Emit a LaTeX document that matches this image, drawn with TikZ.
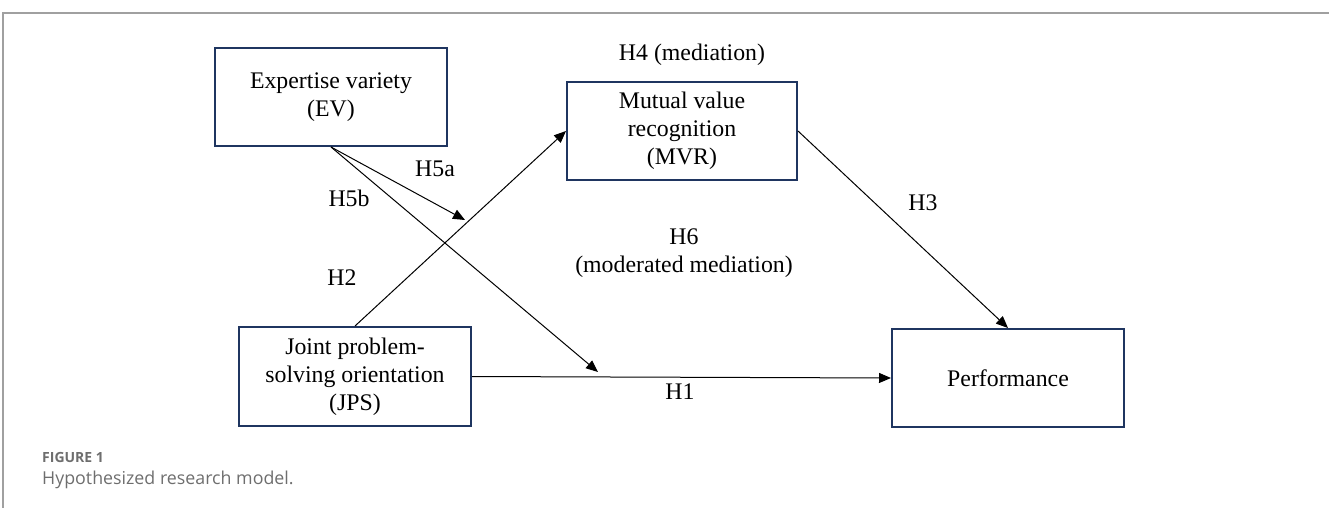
\documentclass[tikz,border=0pt]{standalone}
\usepackage{fontspec}
\setmainfont{Liberation Serif}
\newfontfamily\capfont{Open Sans}
\usetikzlibrary{positioning, arrows.meta}
\usepackage{xcolor}
\definecolor{boxblue}{HTML}{1F3560}
\definecolor{framegray}{HTML}{A0A0A0}
\definecolor{capgray}{HTML}{6E6E6E}

\tikzset{
  box/.style={draw=boxblue, line width=2pt, rectangle, align=center,
    minimum width=232pt, minimum height=98pt, inner sep=0pt,
    font=\fontsize{23.8}{28}\selectfont},
  lbl/.style={align=center, inner sep=0pt, font=\fontsize{23.8}{28}\selectfont},
  arr/.style={-{Triangle[length=12pt,width=10pt]}, line width=1pt, black}
}

\begin{document}
\begin{tikzpicture}[x=1pt, y=-1pt]
\useasboundingbox (0,0) rectangle (1329,508);
% frame
\draw[framegray, line width=1.5pt] (1329,13) -- (3,13) -- (3,508);

\node[box] (ev) at (331,97) {Expertise variety\\(EV)};
\node[box, minimum width=230pt] (mvr) at (682,131) {Mutual value\\recognition\\(MVR)};
\node[box, minimum height=99pt] (jps) at (355,376.5) {Joint problem-\\solving orientation\\(JPS)};
\node[box] (perf) at (1008,378) {Performance};

\coordinate (h5atip) at (465,220);
\coordinate (h5btip) at (598,372);

\draw[arr] (jps.north) -- (mvr.west);
\draw[arr] (ev.south) -- (h5atip);
\draw[arr] (ev.south) -- (h5btip);
\draw[arr] (jps.east) -- (perf.west);
\draw[arr] (mvr.east) -- (perf.north);

\node[lbl] (h4) at (692,55) {H4 (mediation)};
\node[lbl] (h5a) at (435,169) {H5a};
\node[lbl] (h5b) at (349,198) {H5b};
\node[lbl] (h2) at (342,278) {H2};
\node[lbl] (h6) at (684,253) {H6\\(moderated mediation)};
\node[lbl] (h3) at (923,203) {H3};
\node[lbl] (h1) at (680,392) {H1};

% caption
\node[anchor=west, inner sep=0pt, text=capgray, font=\capfont\bfseries\fontsize{14}{16}\selectfont] (fig) at (42,457) {FIGURE 1};
\node[anchor=west, inner sep=0pt, text=capgray, font=\capfont\fontsize{17.8}{20}\selectfont] (cap) at (42,480) {Hypothesized research model.};
\end{tikzpicture}
\end{document}
